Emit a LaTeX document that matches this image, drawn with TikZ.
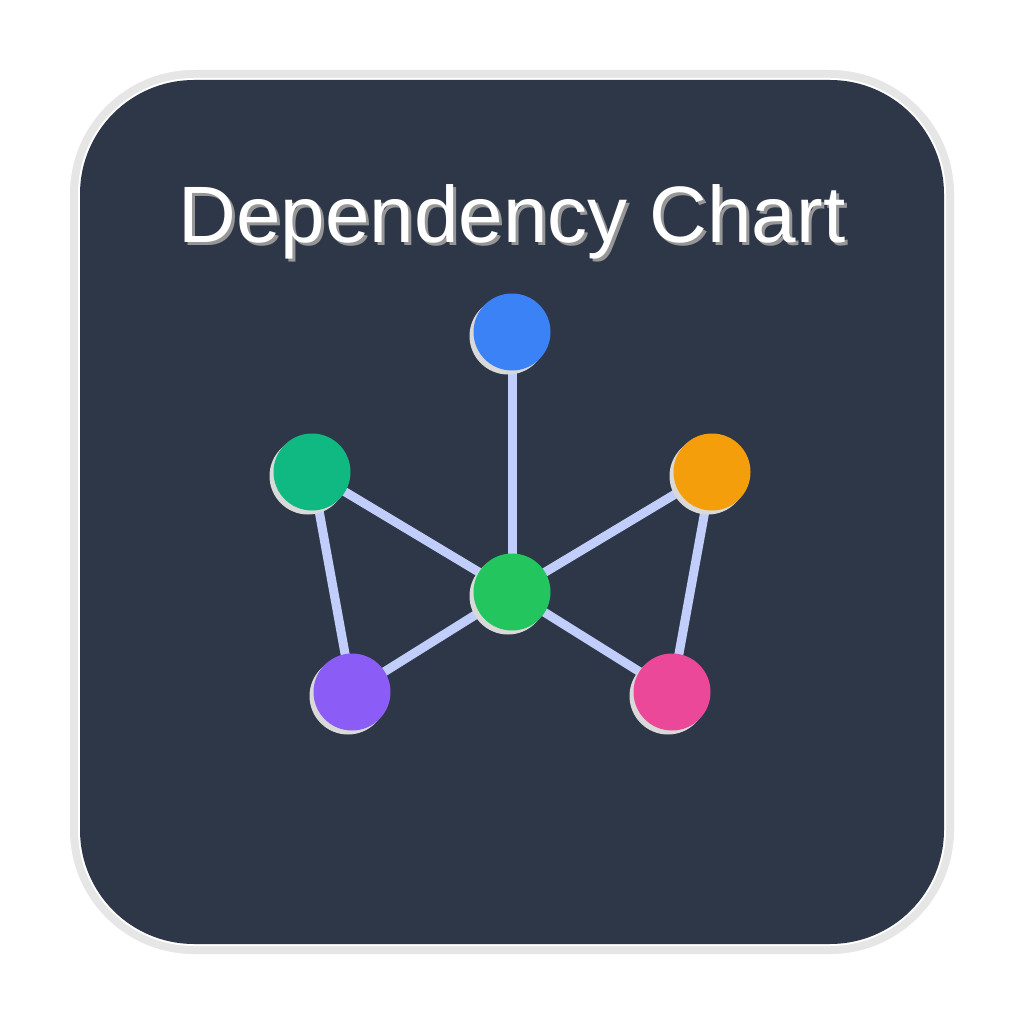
\documentclass[tikz,border=0pt]{standalone}
\usepackage{fontspec}
\setmainfont{Liberation Sans}
\definecolor{panel}{HTML}{2D3748}
\definecolor{rim}{HTML}{E6E6E6}
\definecolor{edgecol}{HTML}{C1CEFC}
\definecolor{dropgray}{HTML}{D9D9D9}
\definecolor{titleshadow}{HTML}{969696}
\definecolor{cblue}{HTML}{3B82F6}
\definecolor{cteal}{HTML}{10B981}
\definecolor{corange}{HTML}{F59E0B}
\definecolor{cgreen}{HTML}{22C55E}
\definecolor{cpurple}{HTML}{8B5CF6}
\definecolor{cpink}{HTML}{EC4899}
% text with a grey drop shadow offset down and to the right
\newcommand{\shadowedtext}[1]{%
  \makebox[0pt][l]{\hspace{3pt}\raisebox{-3pt}{\color{titleshadow}#1}}#1}
\begin{document}
\begin{tikzpicture}[x=1pt,y=-1pt,
  link/.style={draw=edgecol,line width=9pt},
  dot/.style={circle,inner sep=0pt,minimum size=77pt},
  dropdot/.style={circle,fill=dropgray,inner sep=0pt,minimum size=77pt}]
  \useasboundingbox (0,0) rectangle (1024,1024);
  \fill[white] (0,0) rectangle (1024,1024);
  % framed panel
  \fill[rim,rounded corners=124pt] (70,70) rectangle (954,954);
  \fill[white,rounded corners=116pt] (78,78) rectangle (946,946);
  \fill[panel,rounded corners=114pt] (80,80) rectangle (944,944);
  % title
  \node[anchor=base,text=white,font=\fontsize{80}{96}\selectfont] (title) at (512,242) {\shadowedtext{Dependency Chart}};
  % node positions
  \coordinate (top) at (512,332);
  \coordinate (left) at (312,472);
  \coordinate (right) at (712,472);
  \coordinate (hub) at (512,592);
  \coordinate (bl) at (352,692);
  \coordinate (br) at (672,692);
  % connectors
  \draw[link] (top) -- (hub);
  \draw[link] (left) -- (hub);
  \draw[link] (right) -- (hub);
  \draw[link] (hub) -- (bl);
  \draw[link] (hub) -- (br);
  \draw[link] (left) -- (bl);
  \draw[link] (right) -- (br);
  % circle shadows
  \foreach \p in {top,left,right,hub,bl,br}
    \node[dropdot] (shade-\p) at ([shift={(-4,4)}]\p) {};
  % circles
  \node[dot,fill=cblue] (ntop) at (top) {};
  \node[dot,fill=cteal] (nleft) at (left) {};
  \node[dot,fill=corange] (nright) at (right) {};
  \node[dot,fill=cgreen] (nhub) at (hub) {};
  \node[dot,fill=cpurple] (nbl) at (bl) {};
  \node[dot,fill=cpink] (nbr) at (br) {};
\end{tikzpicture}
\end{document}
